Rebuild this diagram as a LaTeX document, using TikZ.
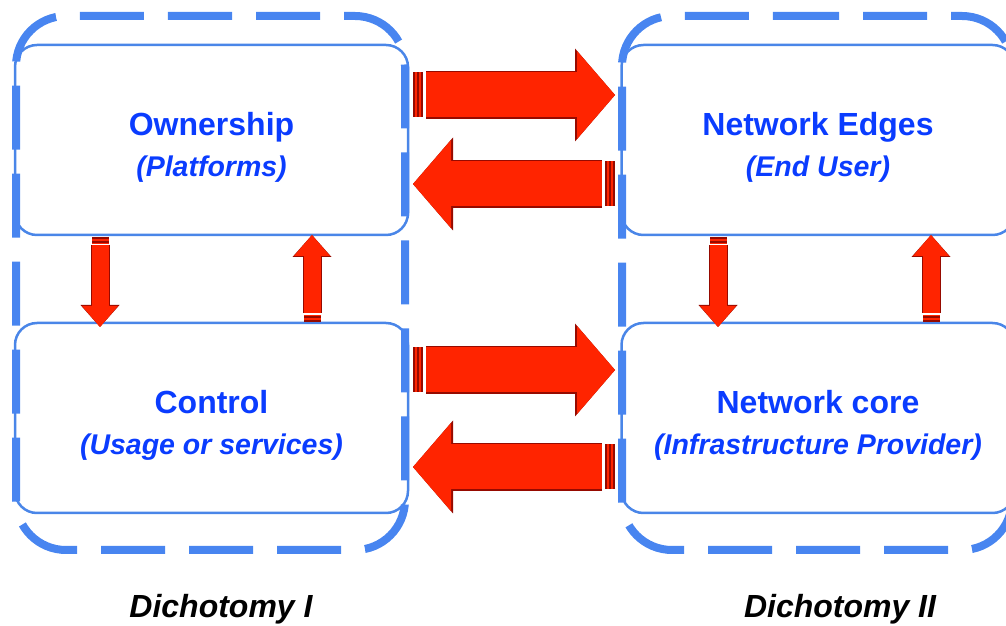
\documentclass[tikz,border=0pt]{standalone}
\usepackage{fontspec}
\setmainfont{Liberation Sans}
\usetikzlibrary{arrows.meta}

\definecolor{boxblue}{RGB}{74,134,232}
\definecolor{dashblue}{RGB}{72,133,240}
\definecolor{textblue}{RGB}{10,60,255}
\definecolor{arrowred}{RGB}{255,36,0}
\definecolor{arrowdark}{RGB}{150,10,0}

\begin{document}
\begin{tikzpicture}[x=1pt, y=1pt,
    box/.style={draw=boxblue, line width=2.5pt, rounded corners=22pt, minimum width=393pt, minimum height=190pt, outer sep=0pt, inner sep=0pt},
    title/.style={anchor=base, inner sep=0pt, text=textblue, font=\fontsize{32}{38}\selectfont\bfseries},
    subtitle/.style={anchor=base, inner sep=0pt, text=textblue, font=\fontsize{28.5}{34}\selectfont\bfseries\itshape},
    dichotomy/.style={anchor=base, inner sep=0pt, font=\fontsize{32}{38}\selectfont\bfseries\itshape},
    dashbox/.style={draw=dashblue, line width=8pt, rounded corners=50pt, dash pattern=on 64pt off 24pt},
    bigarrow/.style={draw=arrowred, line width=45pt, -{Triangle[length=38pt,width=88pt,line width=0pt]},
        preaction={draw=arrowdark, line width=48pt, -{Triangle[length=40pt,width=93pt,line width=0pt]}}},
    smallarrow/.style={draw=arrowred, line width=17pt, -{Triangle[length=21pt,width=36pt,line width=0pt]},
        preaction={draw=arrowdark, line width=19pt, -{Triangle[length=22pt,width=39pt,line width=0pt]}}},
    tail/.style={draw=arrowred, postaction={draw=arrowdark, dash pattern=on 2pt off 2pt}}]

    \useasboundingbox (0,0) rectangle (1006,626);

    % Inner boxes
    \node[box] (own) at (211.5,486) {};
    \node[box] (ctrl) at (211.5,208) {};
    \node[box] (edge) at (818,486) {};
    \node[box] (core) at (818,208) {};

    % Box texts
    \node[title] (ownT) at ([yshift=4pt]own.center) {Ownership};
    \node[subtitle] (ownS) at ([yshift=-41pt]ownT.base) {(Platforms)};
    \node[title] (ctrlT) at ([yshift=4pt]ctrl.center) {Control};
    \node[subtitle] (ctrlS) at ([yshift=-41pt]ctrlT.base) {(Usage or services)};
    \node[title] (edgeT) at ([yshift=4pt]edge.center) {Network Edges};
    \node[subtitle] (edgeS) at ([yshift=-41pt]edgeT.base) {(End User)};
    \node[title] (coreT) at ([yshift=4pt]core.center) {Network core};
    \node[subtitle] (coreS) at ([yshift=-41pt]coreT.base) {(Infrastructure Provider)};

    % Dashed outlines of the two dichotomies (perimeter = 20 dash periods)
    \draw[dashbox] (168,610) -- (405,610) -- (405,76) -- (16,76) -- (16,610) -- (168,610);
    \draw[dashbox] (775,610) -- (1012,610) -- (1012,76) -- (622,76) -- (622,610) -- (775,610);

    % Horizontal arrows between the dichotomies
    \draw[bigarrow, shorten <=18pt, shorten >=6.5pt] ([yshift=45pt]own.east) -- ([yshift=45pt]edge.west);
    \draw[tail, line width=45pt] ([yshift=45pt, xshift=5pt]own.east) -- ++(10,0);
    \draw[bigarrow, shorten <=19.5pt, shorten >=5pt] ([yshift=-44pt]edge.west) -- ([yshift=-44pt]own.east);
    \draw[tail, line width=45pt] ([yshift=-44pt, xshift=-6.5pt]edge.west) -- ++(-10,0);

    \draw[bigarrow, shorten <=18pt, shorten >=6.5pt] ([yshift=48pt]ctrl.east) -- ([yshift=48pt]core.west);
    \draw[tail, line width=45pt] ([yshift=48pt, xshift=5pt]ctrl.east) -- ++(10,0);
    \draw[bigarrow, shorten <=19.5pt, shorten >=5pt] ([yshift=-49pt]core.west) -- ([yshift=-49pt]ctrl.east);
    \draw[tail, line width=45pt] ([yshift=-49pt, xshift=-6.5pt]core.west) -- ++(-10,0);

    % Vertical arrows inside each dichotomy
    \draw[smallarrow, shorten <=10pt, shorten >=-4pt] ([xshift=-111.5pt]own.south) -- ([xshift=-111.5pt]ctrl.north);
    \draw[tail, line width=17pt] ([xshift=-111.5pt, yshift=-2pt]own.south) -- ++(0,-7);
    \draw[smallarrow, shorten <=10pt] ([xshift=100.5pt]ctrl.north) -- ([xshift=100.5pt]own.south);
    \draw[tail, line width=17pt] ([xshift=100.5pt, yshift=1pt]ctrl.north) -- ++(0,7);

    \draw[smallarrow, shorten <=10pt, shorten >=-4pt] ([xshift=-100pt]edge.south) -- ([xshift=-100pt]core.north);
    \draw[tail, line width=17pt] ([xshift=-100pt, yshift=-2pt]edge.south) -- ++(0,-7);
    \draw[smallarrow, shorten <=10pt] ([xshift=113pt]core.north) -- ([xshift=113pt]edge.south);
    \draw[tail, line width=17pt] ([xshift=113pt, yshift=1pt]core.north) -- ++(0,7);

    % Labels
    \node[dichotomy] (dichI) at (221,9) {Dichotomy I};
    \node[dichotomy] (dichII) at (840,9) {Dichotomy II};

\end{tikzpicture}
\end{document}
